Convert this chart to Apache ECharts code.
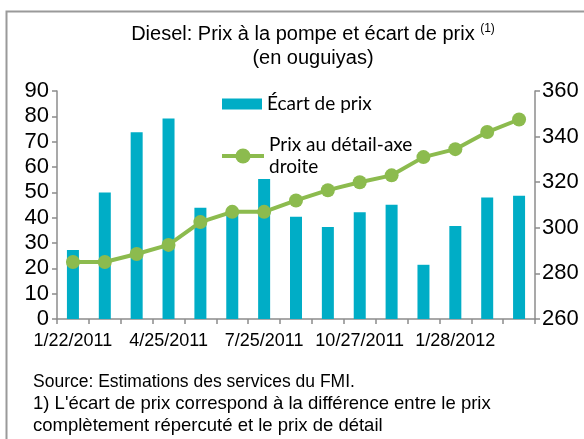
<!DOCTYPE html>
<html>
<head>
<meta charset="utf-8">
<script src="https://cdn.jsdelivr.net/npm/echarts@6/dist/echarts.min.js"></script>
<style>
html,body{margin:0;padding:0;background:#fff;}
#chart{width:584px;height:439px;}
</style>
</head>
<body>
<div id="chart"></div>
<script>
// ---- data ----
var categories = ['1/22/2011','2/22/2011','3/24/2011','4/25/2011','5/25/2011','6/25/2011','7/25/2011','8/26/2011','9/26/2011','10/27/2011','11/27/2011','12/28/2011','1/28/2012','2/28/2012','3/29/2012'];
var ecartValues = [27.2, 49.9, 73.7, 79.1, 43.9, 42, 55.3, 40.4, 36.3, 42.1, 45.1, 21.4, 36.7, 48, 48.7];
var prixValues = [285, 285, 288.5, 292.5, 302.5, 307, 307, 312, 316.5, 320, 323, 331, 334.5, 342, 347.5];
var leftTicks = {min: 0, max: 90, interval: 10};
var rightTicks = {min: 260, max: 360, interval: 20};
var seriesNames = ['Écart de prix', 'Prix au détail-axe droite'];
var titleLine1 = 'Diesel: Prix à la pompe et écart de prix ';
var titleSup = '(1)';
var titleLine2 = '(en ouguiyas)';
var footLines = ['Source: Estimations des services du FMI.',
  "1) L'écart de prix correspond à la différence entre le prix",
  'complètement répercuté et le prix de détail'];

var BAR = '#00ADC6', LINE = '#8CBB4E', AXIS = '#8c8c8c';
var FONT = '"Liberation Sans", Arial, sans-serif';
var LFONT = 'Lato, "Open Sans", sans-serif';

var chart = echarts.init(document.getElementById('chart'), null, {renderer: 'canvas'});
chart.setOption({
  animation: false,
  backgroundColor: '#fff',
  graphic: [{
    type: 'rect', silent: true,
    shape: {x: 6.5, y: 11.5, width: 700, height: 600},
    style: {fill: 'none', stroke: '#9a9a9a', lineWidth: 2}
  }],
  title: [{
    left: 308, top: 17, textAlign: 'center',
    text: '{m|' + titleLine1 + '}{s|' + titleSup + '}\n{m|' + titleLine2 + '}',
    textStyle: {
      rich: {
        m: {fontFamily: FONT, fontSize: 20, fontWeight: 'normal', color: '#000', lineHeight: 24},
        s: {fontFamily: FONT, fontSize: 12, fontWeight: 'normal', color: '#000', lineHeight: 24, verticalAlign: 'top', padding: [1,0,0,0]}
      }
    }
  }, {
    left: 28, top: 366,
    text: '{a|' + footLines[0] + '}\n{b|' + footLines[1] + '}\n{b|' + footLines[2] + '}',
    textStyle: {
      rich: {
        a: {fontFamily: FONT, fontSize: 17.5, fontWeight: 'normal', color: '#000', lineHeight: 22},
        b: {fontFamily: FONT, fontSize: 18.5, fontWeight: 'normal', color: '#000', lineHeight: 22}
      }
    }
  }],
  legend: [{
    data: [seriesNames[0]],
    left: 222, top: 93, orient: 'vertical', padding: 0,
    itemWidth: 40, itemHeight: 11, icon: 'rect',
    textStyle: {fontFamily: LFONT, fontSize: 19, color: '#000', lineHeight: 22}
  }, {
    data: [seriesNames[1]],
    left: 220, top: 123, orient: 'vertical', padding: 0,
    itemWidth: 42, itemHeight: 19,
    lineStyle: {width: 4},
    formatter: function (n) { return n.replace('-axe ', '-axe\n'); },
    textStyle: {fontFamily: LFONT, fontSize: 19, color: '#000', lineHeight: 22, padding: [22, 0, 0, 0]}
  }],
  grid: {left: 57, right: 49, top: 91, bottom: 120, containLabel: false, outerBoundsMode: 'none'},
  xAxis: {
    type: 'category', data: categories, boundaryGap: true,
    axisLine: {lineStyle: {color: AXIS, width: 1.5}},
    axisTick: {show: true, interval: 0, length: 5, lineStyle: {color: AXIS, width: 1.5}},
    axisLabel: {interval: 2, margin: 13, fontFamily: FONT, fontSize: 18, color: '#000'},
    splitLine: {show: false}
  },
  yAxis: [{
    type: 'value', min: leftTicks.min, max: leftTicks.max, interval: leftTicks.interval,
    axisLine: {show: true, lineStyle: {color: AXIS, width: 1.5}},
    axisTick: {show: true, length: 5, lineStyle: {color: AXIS, width: 1.5}},
    axisLabel: {margin: 8, fontFamily: FONT, fontSize: 22, color: '#000'},
    splitLine: {show: false}
  }, {
    type: 'value', min: rightTicks.min, max: rightTicks.max, interval: rightTicks.interval,
    position: 'right',
    axisLine: {show: true, lineStyle: {color: AXIS, width: 1.5}},
    axisTick: {show: true, length: 5, lineStyle: {color: AXIS, width: 1.5}},
    axisLabel: {margin: 7, fontFamily: FONT, fontSize: 22, color: '#000'},
    splitLine: {show: false}
  }],
  series: [{
    name: seriesNames[0], type: 'bar', data: ecartValues, yAxisIndex: 0,
    barWidth: 12, itemStyle: {color: BAR}
  }, {
    name: seriesNames[1], type: 'line', data: prixValues, yAxisIndex: 1,
    symbol: 'circle', symbolSize: 14,
    lineStyle: {color: LINE, width: 4}, itemStyle: {color: LINE}
  }]
});
</script>
</body>
</html>
